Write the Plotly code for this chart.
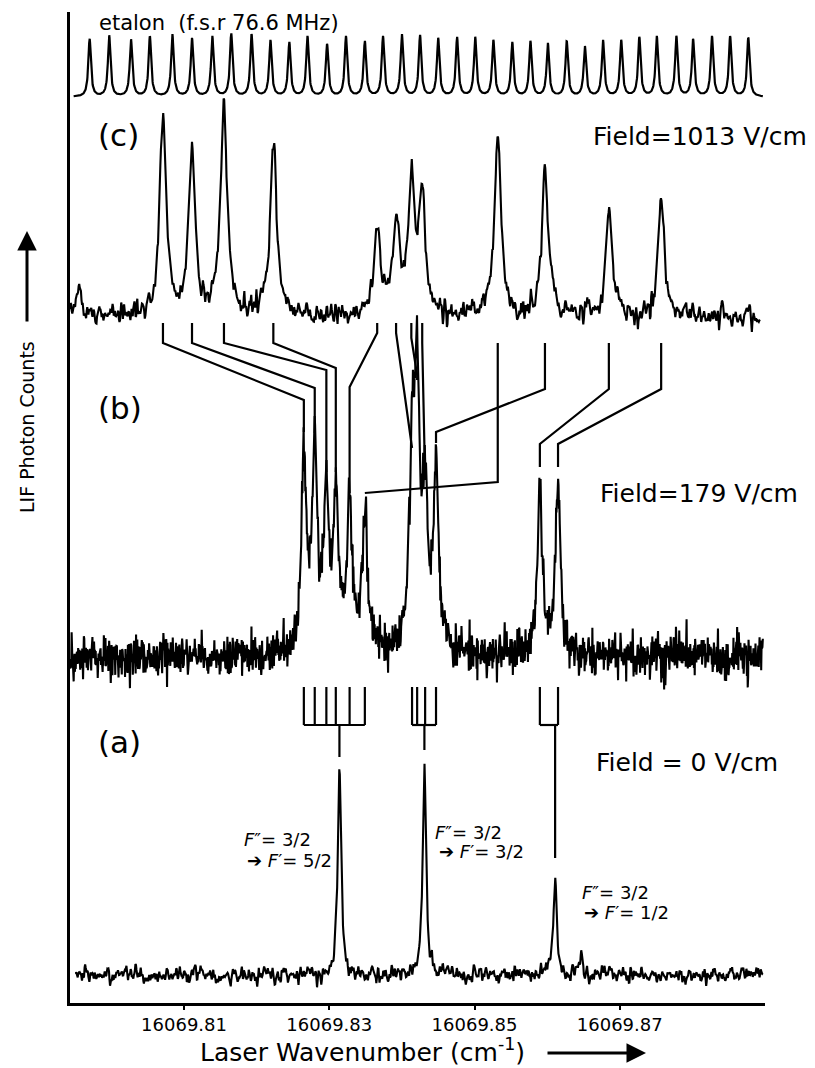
import numpy as np
import plotly.graph_objects as go

# ---------------- data ----------------
X_MIN, X_MAX = 16069.7943, 16069.8900
tick_vals = [16069.81, 16069.83, 16069.85, 16069.87]
tick_text = ["16069.81", "16069.83", "16069.85", "16069.87"]

# etalon transmission fringes (f.s.r. 76.6 MHz)
etalon_pos = [16069.7970, 16069.7997, 16069.8027, 16069.8053, 16069.8084, 16069.8111,
              16069.8139, 16069.8165, 16069.8193, 16069.8219, 16069.8245, 16069.8270,
              16069.8297, 16069.8323, 16069.8349, 16069.8374, 16069.8400, 16069.8425,
              16069.8450, 16069.8476, 16069.8501, 16069.8526, 16069.8552, 16069.8577,
              16069.8601, 16069.8627, 16069.8652, 16069.8677, 16069.8702, 16069.8727,
              16069.8751, 16069.8778, 16069.8801, 16069.8827, 16069.8852, 16069.8877]
etalon_height = [58, 61, 57, 60, 62, 58, 60, 63, 62, 56, 54, 60, 52, 60, 55, 60, 62, 61,
                 58, 59, 59, 56, 54, 55, 53, 55, 50, 56, 56, 59, 60, 60, 57, 60, 60, 59]

# (c) Field = 1013 V/cm
c_pos = [16069.8071, 16069.8111, 16069.8155, 16069.8223, 16069.8366, 16069.8392,
         16069.8413, 16069.8428, 16069.8532, 16069.8597, 16069.8685, 16069.8757, 16069.7956]
c_height = [196, 168, 212, 176, 88, 96, 130, 110, 184, 146, 108, 113, 28]

# (b) Field = 179 V/cm
b_pos = [16069.8265, 16069.8280, 16069.8296, 16069.8309, 16069.8328, 16069.8349,
         16069.8414, 16069.8421, 16069.8432, 16069.8447, 16069.8590, 16069.8615]
b_height = [190, 200, 150, 150, 140, 142, 180, 255, 140, 182, 165, 165]

# (a) Field = 0 V/cm
a_pos = [16069.8314, 16069.8431, 16069.8611, 16069.8647]
a_height = [205, 215, 100, 20]

# correspondence of lines between the panels
cb_links = [(0, 0), (1, 1), (2, 2), (3, 3), (4, 4), (5, 6), (6, 7), (7, 8),
            (8, 5), (9, 9), (10, 10), (11, 11)]
ba_groups = [[0, 1, 2, 3, 4, 5], [6, 7, 8, 9], [10, 11]]

# ---------------- layout constants (display units = px above x axis) ----------------
A_BASE, B_BASE, C_BASE, E_BASE = 28, 346, 686, 906
cb_levels = [[680, 660, 603, 571], [680, 660, 615, 570], [680, 660, 633, 531],
             [680, 660, 635, 531], [680, 670, 616, 510], [680, 670, 555, 555],
             [680, 665, 628, 623], [680, 660, 523, 523], [660, 521, 510, 510],
             [660, 614, 571, 560], [660, 614, 559, 536], [660, 614, 559, 536]]
BAR_TOP, BAR_Y = 316, 278
stem_end = [246, 253, 145]

rng = np.random.default_rng(11)


def lorentz_sum(x, pos, hgt, fwhm):
    g = fwhm / 2.0
    y = np.zeros_like(x)
    for p, h in zip(pos, hgt):
        y += h * g * g / ((x - p) ** 2 + g * g)
    return y


def noise(n, sd, smooth=False):
    v = rng.normal(0, sd, n)
    if smooth:
        v = np.convolve(v, [0.25, 0.5, 0.25], mode="same") * 1.6
    return v


fig = go.Figure()
line = dict(color="black", width=2.1)

# etalon
xe = np.linspace(16069.7948, 16069.8897, 2400)
ye = E_BASE + lorentz_sum(xe, etalon_pos, etalon_height, 0.00042)
fig.add_trace(go.Scatter(x=xe, y=ye, mode="lines", line=dict(color="black", width=2.2)))

# (c)
xc = np.linspace(16069.7943, 16069.8893, 1200)
yc = C_BASE + lorentz_sum(xc, c_pos, c_height, 0.00105) + noise(len(xc), 5.5, True)
fig.add_trace(go.Scatter(x=xc, y=yc, mode="lines", line=line))

# (b)
xb = np.linspace(16069.7943, 16069.8897, 1700)
yb = B_BASE + lorentz_sum(xb, b_pos, b_height, 0.00085) + noise(len(xb), 10)
fig.add_trace(go.Scatter(x=xb, y=yb, mode="lines", line=line))

# (a)
xa = np.linspace(16069.7950, 16069.8897, 1300)
ya = A_BASE + lorentz_sum(xa, a_pos, a_height, 0.00055) + noise(len(xa), 4.0, True)
fig.add_trace(go.Scatter(x=xa, y=ya, mode="lines", line=line))

# connectors (c) -> (b)
cx, cy = [], []
for (ci, bi), lv in zip(cb_links, cb_levels):
    cx += [c_pos[ci], c_pos[ci], b_pos[bi], b_pos[bi], None]
    cy += [lv[0], lv[1], lv[2], lv[3], None]
fig.add_trace(go.Scatter(x=cx, y=cy, mode="lines", line=dict(color="black", width=2.2)))

# connectors (b) -> (a)
gx, gy = [], []
for gi, grp in enumerate(ba_groups):
    for bi in grp:
        gx += [b_pos[bi], b_pos[bi], None]
        gy += [BAR_TOP, BAR_Y, None]
    gx += [b_pos[grp[0]], b_pos[grp[-1]], None]
    gy += [BAR_Y, BAR_Y, None]
    gx += [a_pos[gi], a_pos[gi], None]
    gy += [BAR_Y, stem_end[gi], None]
fig.add_trace(go.Scatter(x=gx, y=gy, mode="lines", line=dict(color="black", width=2.2)))

# ---------------- text ----------------
FONT = "DejaVu Sans"
W_L, W_R, Y_T, Y_B = 70, 765, 12, 1003


def px(x):
    return (x - W_L) / (W_R - W_L)


def py(y):
    return (Y_B - y) / (Y_B - Y_T)


def txt(s, x, y, size, xanchor="left", **kw):
    fig.add_annotation(text=s, x=px(x), y=py(y), xref="paper", yref="paper",
                       xanchor=xanchor, yanchor="middle", showarrow=False,
                       font=dict(family=FONT, size=size, color="black"), **kw)


txt("etalon\u00a0\u00a0(f.s.r 76.6 MHz)", 97, 23, 21)
txt("(c)", 96, 135, 31)
txt("(b)", 96, 408, 31)
txt("(a)", 96, 742, 31)
txt("Field=1013 V/cm", 591, 137, 25)
txt("Field=179 V/cm", 598, 493, 25)
txt("Field = 0 V/cm", 594, 762, 25)

txt("<i>F</i>\u2033= 3/2", 242, 839, 18)
txt("\u2794 <i>F</i>\u2032= 5/2", 245, 860, 18)
txt("<i>F</i>\u2033= 3/2", 433, 832, 18)
txt("\u2794 <i>F</i>\u2032= 3/2", 437, 851, 18)
txt("<i>F</i>\u2033= 3/2", 580, 892, 18)
txt("\u2794 <i>F</i>\u2032= 1/2", 582, 912, 18)

txt("Laser Wavenumber (cm<sup>-1</sup>)", 362, 1050, 25, xanchor="center")
txt("LIF Photon Counts", 27, 427, 19, xanchor="center", textangle=-90)

# axis arrows
fig.add_annotation(x=px(646), y=py(1053), xref="paper", yref="paper", text="",
                   showarrow=True, ax=-100, ay=0, arrowhead=2, arrowsize=1.3,
                   arrowwidth=3, arrowcolor="black")
fig.add_annotation(x=px(27), y=py(231), xref="paper", yref="paper", text="",
                   showarrow=True, ax=0, ay=92, arrowhead=2, arrowsize=1.3,
                   arrowwidth=3, arrowcolor="black")

fig.update_layout(
    width=815, height=1068,
    margin=dict(l=W_L, r=815 - W_R, t=Y_T, b=1068 - Y_B),
    paper_bgcolor="white", plot_bgcolor="white", showlegend=False,
    xaxis=dict(range=[X_MIN, X_MAX], showline=True, linecolor="black", linewidth=2.5,
               ticks="outside", ticklen=4, tickwidth=2, tickcolor="black",
               tickvals=tick_vals, ticktext=tick_text, showgrid=False, zeroline=False,
               tickfont=dict(family=FONT, size=18, color="black")),
    yaxis=dict(range=[0, Y_B - Y_T], showline=True, linecolor="black", linewidth=2.5,
               showticklabels=False, ticks="", showgrid=False, zeroline=False),
)

fig.write_html("out.html")
